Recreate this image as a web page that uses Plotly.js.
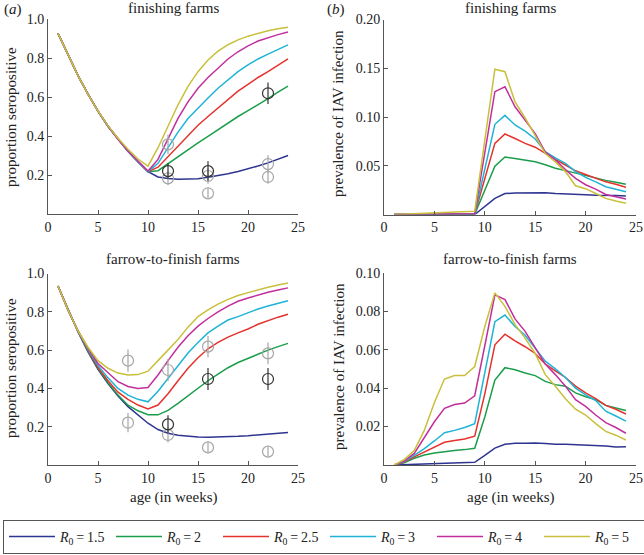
<!DOCTYPE html>
<html>
<head>
<meta charset="utf-8">
<script src="https://cdn.plot.ly/plotly-3.0.1.min.js"></script>
<style>html,body{margin:0;padding:0;background:#fff;}#chart{width:644px;height:555px;}</style>
</head>
<body>
<div id="chart"></div>
<script>
// ---------- data ----------
const seriesNames = ['<i>R</i><sub>0</sub>\u2009=\u20091.5','<i>R</i><sub>0</sub>\u2009=\u20092','<i>R</i><sub>0</sub>\u2009=\u20092.5','<i>R</i><sub>0</sub>\u2009=\u20093','<i>R</i><sub>0</sub>\u2009=\u20094','<i>R</i><sub>0</sub>\u2009=\u20095'];
const seriesColors = ['#2e3590','#1b9e4b','#e5322d','#1fb4d6','#c22f9d','#c8c03a'];

const weeks = [1,2,3,4,5,6,7,8,9,10,11,12,13,14,15,16,17,18,19,20,21,22,23,24];
const weeksTR = [1,2,3,4,5,6,7,8,9,11,12,13,14,15,16,17,18,19,20,21,22,23,24];

// (a) finishing farms: proportion seropositive
const seroFin_R15 = [0.926,0.815,0.71,0.615,0.528,0.45,0.383,0.322,0.268,0.217,0.19,0.182,0.178,0.178,0.181,0.188,0.196,0.206,0.218,0.231,0.246,0.262,0.28,0.3];
const seroFin_R2  = [0.926,0.815,0.71,0.615,0.528,0.45,0.383,0.322,0.268,0.217,0.222,0.258,0.295,0.33,0.365,0.398,0.432,0.467,0.5,0.53,0.56,0.592,0.625,0.656];
const seroFin_R25 = [0.926,0.815,0.71,0.615,0.528,0.45,0.383,0.322,0.268,0.217,0.24,0.295,0.35,0.405,0.455,0.5,0.545,0.59,0.63,0.665,0.7,0.73,0.763,0.795];
const seroFin_R3  = [0.926,0.815,0.71,0.615,0.528,0.45,0.383,0.322,0.268,0.217,0.26,0.34,0.42,0.49,0.545,0.595,0.645,0.69,0.73,0.765,0.795,0.82,0.845,0.867];
const seroFin_R4  = [0.926,0.815,0.71,0.615,0.528,0.45,0.383,0.323,0.27,0.22,0.28,0.385,0.49,0.575,0.645,0.7,0.75,0.795,0.832,0.862,0.887,0.905,0.92,0.933];
const seroFin_R5  = [0.926,0.815,0.71,0.615,0.528,0.452,0.388,0.332,0.282,0.245,0.34,0.45,0.56,0.655,0.73,0.79,0.835,0.868,0.893,0.912,0.927,0.94,0.95,0.958];

// (a) farrow-to-finish farms: proportion seropositive
const seroFtf_R15 = [0.935,0.81,0.695,0.59,0.5,0.425,0.36,0.305,0.26,0.218,0.185,0.166,0.155,0.149,0.146,0.145,0.146,0.148,0.15,0.153,0.157,0.162,0.166,0.17];
const seroFtf_R2  = [0.935,0.81,0.697,0.595,0.505,0.43,0.365,0.312,0.283,0.263,0.262,0.285,0.322,0.362,0.4,0.44,0.475,0.508,0.535,0.558,0.58,0.6,0.618,0.635];
const seroFtf_R25 = [0.935,0.81,0.7,0.6,0.51,0.44,0.38,0.343,0.313,0.293,0.313,0.372,0.44,0.505,0.56,0.607,0.64,0.668,0.69,0.71,0.735,0.755,0.772,0.787];
const seroFtf_R3  = [0.935,0.81,0.7,0.605,0.52,0.455,0.4,0.365,0.343,0.33,0.385,0.45,0.52,0.585,0.64,0.69,0.725,0.757,0.775,0.795,0.815,0.83,0.845,0.858];
const seroFtf_R4  = [0.935,0.81,0.7,0.61,0.53,0.48,0.435,0.41,0.4,0.405,0.47,0.545,0.615,0.675,0.725,0.765,0.8,0.83,0.855,0.872,0.888,0.902,0.914,0.925];
const seroFtf_R5  = [0.935,0.81,0.7,0.615,0.545,0.505,0.48,0.47,0.472,0.49,0.545,0.6,0.655,0.72,0.775,0.81,0.84,0.865,0.885,0.9,0.915,0.928,0.94,0.95];

// (b) finishing farms: prevalence of IAV infection (weeksTR)
const prevFin_R15 = [0,0,0,0,0,0,0,0,0,0.0165,0.0215,0.022,0.022,0.0225,0.0222,0.0215,0.0213,0.021,0.0203,0.0198,0.02,0.0195,0.019];
const prevFin_R2  = [0,0,0.0001,0.0001,0.0002,0.0002,0.0003,0.0003,0.0003,0.0495,0.059,0.0575,0.0555,0.054,0.051,0.0475,0.045,0.0425,0.0395,0.0375,0.035,0.033,0.031];
const prevFin_R25 = [0,0,0.0001,0.0002,0.0003,0.0004,0.0005,0.0005,0.0005,0.073,0.0826,0.078,0.073,0.069,0.0625,0.0565,0.0508,0.0448,0.041,0.0376,0.0335,0.031,0.028];
const prevFin_R3  = [0,0.0001,0.0002,0.0003,0.0004,0.0005,0.0006,0.0006,0.0006,0.0925,0.1017,0.0918,0.0855,0.0775,0.0645,0.058,0.0525,0.044,0.038,0.0335,0.0285,0.026,0.0234];
const prevFin_R4  = [0,0.0002,0.0003,0.0005,0.0006,0.0007,0.0008,0.0008,0.0008,0.126,0.131,0.1105,0.097,0.083,0.064,0.056,0.046,0.037,0.0305,0.026,0.0205,0.018,0.016];
const prevFin_R5  = [0,0.0005,0.001,0.0015,0.002,0.0025,0.003,0.0032,0.0033,0.149,0.1465,0.1155,0.099,0.081,0.0625,0.054,0.044,0.0295,0.0265,0.0215,0.0165,0.0138,0.0115];

// (b) farrow-to-finish farms: prevalence of IAV infection (weeks)
const prevFtf_R15 = [0,0.0002,0.0004,0.0006,0.0009,0.0011,0.0012,0.0013,0.0014,0.005,0.0088,0.0108,0.0113,0.0113,0.0115,0.0112,0.0108,0.0108,0.0106,0.0103,0.0103,0.0099,0.0094,0.0095];
const prevFtf_R2  = [0,0.0012,0.0035,0.0052,0.0062,0.007,0.0075,0.008,0.0087,0.025,0.0442,0.0506,0.0495,0.0478,0.0465,0.0435,0.0418,0.041,0.0375,0.0355,0.034,0.031,0.0295,0.0283];
const prevFtf_R25 = [0,0.0015,0.0042,0.0068,0.0095,0.0118,0.0128,0.0135,0.015,0.037,0.0625,0.068,0.0645,0.0615,0.058,0.0525,0.049,0.0455,0.041,0.0375,0.0345,0.031,0.029,0.0265];
const prevFtf_R3  = [0,0.0018,0.005,0.0085,0.0125,0.0168,0.018,0.0195,0.0215,0.048,0.0745,0.078,0.072,0.0675,0.061,0.054,0.05,0.0455,0.04,0.0365,0.0335,0.028,0.0255,0.0228];
const prevFtf_R4  = [0,0.002,0.006,0.0145,0.0225,0.0295,0.0315,0.0322,0.036,0.062,0.0885,0.086,0.076,0.0695,0.061,0.0525,0.047,0.041,0.034,0.0305,0.026,0.022,0.0195,0.0165];
const prevFtf_R5  = [0,0.0028,0.0075,0.018,0.0325,0.0447,0.0465,0.0465,0.0512,0.072,0.0895,0.0825,0.073,0.066,0.058,0.047,0.041,0.0345,0.029,0.026,0.0215,0.0175,0.0155,0.013];

// observed data (a)
const obsFinBlackX = [12,16,22];
const obsFinBlackY = [0.22,0.22,0.619];
const obsFinBlackErr = [0.04,0.05,0.055];
const obsFinGreyX = [12,12,16,16,22,22];
const obsFinGreyY = [0.357,0.183,0.195,0.106,0.256,0.19];
const obsFinGreyErr = [0.05,0.035,0.04,0.025,0.045,0.035];

const obsFtfBlackX = [12,16,22];
const obsFtfBlackY = [0.212,0.449,0.449];
const obsFtfBlackErr = [0.048,0.058,0.057];
const obsFtfGreyX = [8,8,12,12,16,16,22,22];
const obsFtfGreyY = [0.545,0.221,0.496,0.157,0.618,0.092,0.583,0.07];
const obsFtfGreyErr = [0.058,0.05,0.058,0.04,0.055,0.03,0.057,0.025];

// ticks
const xTicks = [0,5,10,15,20,25];
const xTickText = ['0','5','10','15','20','25'];
const seroTicks = [0.2,0.4,0.6,0.8,1.0];
const seroTickText = ['0.2','0.4','0.6','0.8','1.0'];
const prevFinTicks = [0.05,0.10,0.15,0.20];
const prevFinTickText = ['0.05','0.10','0.15','0.20'];
const prevFtfTicks = [0.02,0.04,0.06,0.08,0.10];
const prevFtfTickText = ['0.02','0.04','0.06','0.08','0.10'];

// ---------- build ----------
const W = 644, H = 555;
const FONT = "'Liberation Serif', 'Times New Roman', serif";
const TXT = '#222';
const BLACKPT = '#333333', GREYPT = '#a6a6a6';

const panels = [
  {xa:'x',  ya:'y',  x:weeks,   ys:[seroFin_R15,seroFin_R2,seroFin_R25,seroFin_R3,seroFin_R4,seroFin_R5], legend:true},
  {xa:'x2', ya:'y2', x:weeksTR, ys:[prevFin_R15,prevFin_R2,prevFin_R25,prevFin_R3,prevFin_R4,prevFin_R5]},
  {xa:'x3', ya:'y3', x:weeks,   ys:[seroFtf_R15,seroFtf_R2,seroFtf_R25,seroFtf_R3,seroFtf_R4,seroFtf_R5]},
  {xa:'x4', ya:'y4', x:weeks,   ys:[prevFtf_R15,prevFtf_R2,prevFtf_R25,prevFtf_R3,prevFtf_R4,prevFtf_R5]}
];

const traces = [];
panels.forEach(p => {
  p.ys.forEach((y, i) => {
    traces.push({
      type:'scatter', mode:'lines', x:p.x, y:y, xaxis:p.xa, yaxis:p.ya,
      name: seriesNames[i], legendgroup:'g'+i, showlegend: !!p.legend,
      line:{color:seriesColors[i], width:1.5}, hoverinfo:'skip'
    });
  });
});

function obs(x, y, err, color, xa, ya) {
  return {
    type:'scatter', mode:'markers', x:x, y:y, xaxis:xa, yaxis:ya, showlegend:false,
    marker:{symbol:'circle-open', size:11, color:color, line:{color:color, width:1.2}},
    error_y:{type:'data', array:err, visible:true, color:color, thickness:1.2, width:0},
    hoverinfo:'skip'
  };
}
traces.push(obs(obsFinGreyX, obsFinGreyY, obsFinGreyErr, GREYPT, 'x', 'y'));
traces.push(obs(obsFinBlackX, obsFinBlackY, obsFinBlackErr, BLACKPT, 'x', 'y'));
traces.push(obs(obsFtfGreyX, obsFtfGreyY, obsFtfGreyErr, GREYPT, 'x3', 'y3'));
traces.push(obs(obsFtfBlackX, obsFtfBlackY, obsFtfBlackErr, BLACKPT, 'x3', 'y3'));

function px(v){ return v / W; }
function py(v){ return 1 - v / H; }

function xax(l, r, anchor) {
  return {domain:[px(l), px(r)], anchor:anchor, range:[0,25], tickvals:xTicks, ticktext:xTickText,
    ticks:'inside', ticklen:4, tickcolor:'#555', showline:true, linecolor:'#555', linewidth:1,
    showgrid:false, zeroline:false, tickfont:{family:FONT, size:14, color:TXT}, fixedrange:true};
}
function yax(b, t, range, tv, tt, anchor) {
  return {domain:[py(b), py(t)], anchor:anchor, range:range, tickvals:tv, ticktext:tt,
    ticks:'inside', ticklen:4, tickcolor:'#555', showline:true, linecolor:'#555', linewidth:1,
    showgrid:false, zeroline:false, tickfont:{family:FONT, size:14, color:TXT}, fixedrange:true};
}

function ann(text, x, y, opts) {
  return Object.assign({text:text, x:px(x), y:py(y), xref:'paper', yref:'paper', showarrow:false,
    xanchor:'center', yanchor:'middle', font:{family:FONT, size:15, color:TXT}}, opts||{});
}

const layout = {
  width:W, height:H, margin:{l:0,r:0,t:0,b:0, autoexpand:false}, paper_bgcolor:'#fff', plot_bgcolor:'#fff',
  showlegend:true,
  xaxis:  xax(48, 298, 'y'),
  yaxis:  yax(214, 19, [0,1], seroTicks, seroTickText, 'x'),
  xaxis2: xax(384, 636, 'y2'),
  yaxis2: yax(214.5, 19.5, [0,0.2], prevFinTicks, prevFinTickText, 'x2'),
  xaxis3: xax(48, 298, 'y3'),
  yaxis3: yax(465, 273.5, [0,1], seroTicks, seroTickText, 'x3'),
  xaxis4: xax(384, 636, 'y4'),
  yaxis4: yax(465, 272.7, [0,0.1], prevFtfTicks, prevFtfTickText, 'x4'),
  legend:{orientation:'h', x:px(3), y:py(520), xanchor:'left', yanchor:'top',
    bordercolor:'#555', borderwidth:1, bgcolor:'#fff',
    entrywidth:46, entrywidthmode:'pixels', itemwidth:46,
    font:{family:FONT, size:14, color:TXT}, traceorder:'normal', itemclick:false, itemdoubleclick:false},
  annotations:[
    ann('(<i>a</i>)', 2, 9, {xanchor:'left'}),
    ann('(<i>b</i>)', 325, 9, {xanchor:'left'}),
    ann('finishing farms', 173, 8.5),
    ann('finishing farms', 510, 8.5),
    ann('farrow-to-finish farms', 173, 259),
    ann('farrow-to-finish farms', 510, 259),
    ann('proportion seropositive', 11, 117, {textangle:-90}),
    ann('proportion seropositive', 11, 368, {textangle:-90}),
    ann('prevalence of IAV infection', 338, 114, {textangle:-90}),
    ann('prevalence of IAV infection', 339, 367, {textangle:-90}),
    ann('age (in weeks)', 173, 497),
    ann('age (in weeks)', 510, 497)
  ]
};

Plotly.newPlot('chart', traces, layout, {staticPlot:true, displayModeBar:false});
</script>
</body>
</html>
